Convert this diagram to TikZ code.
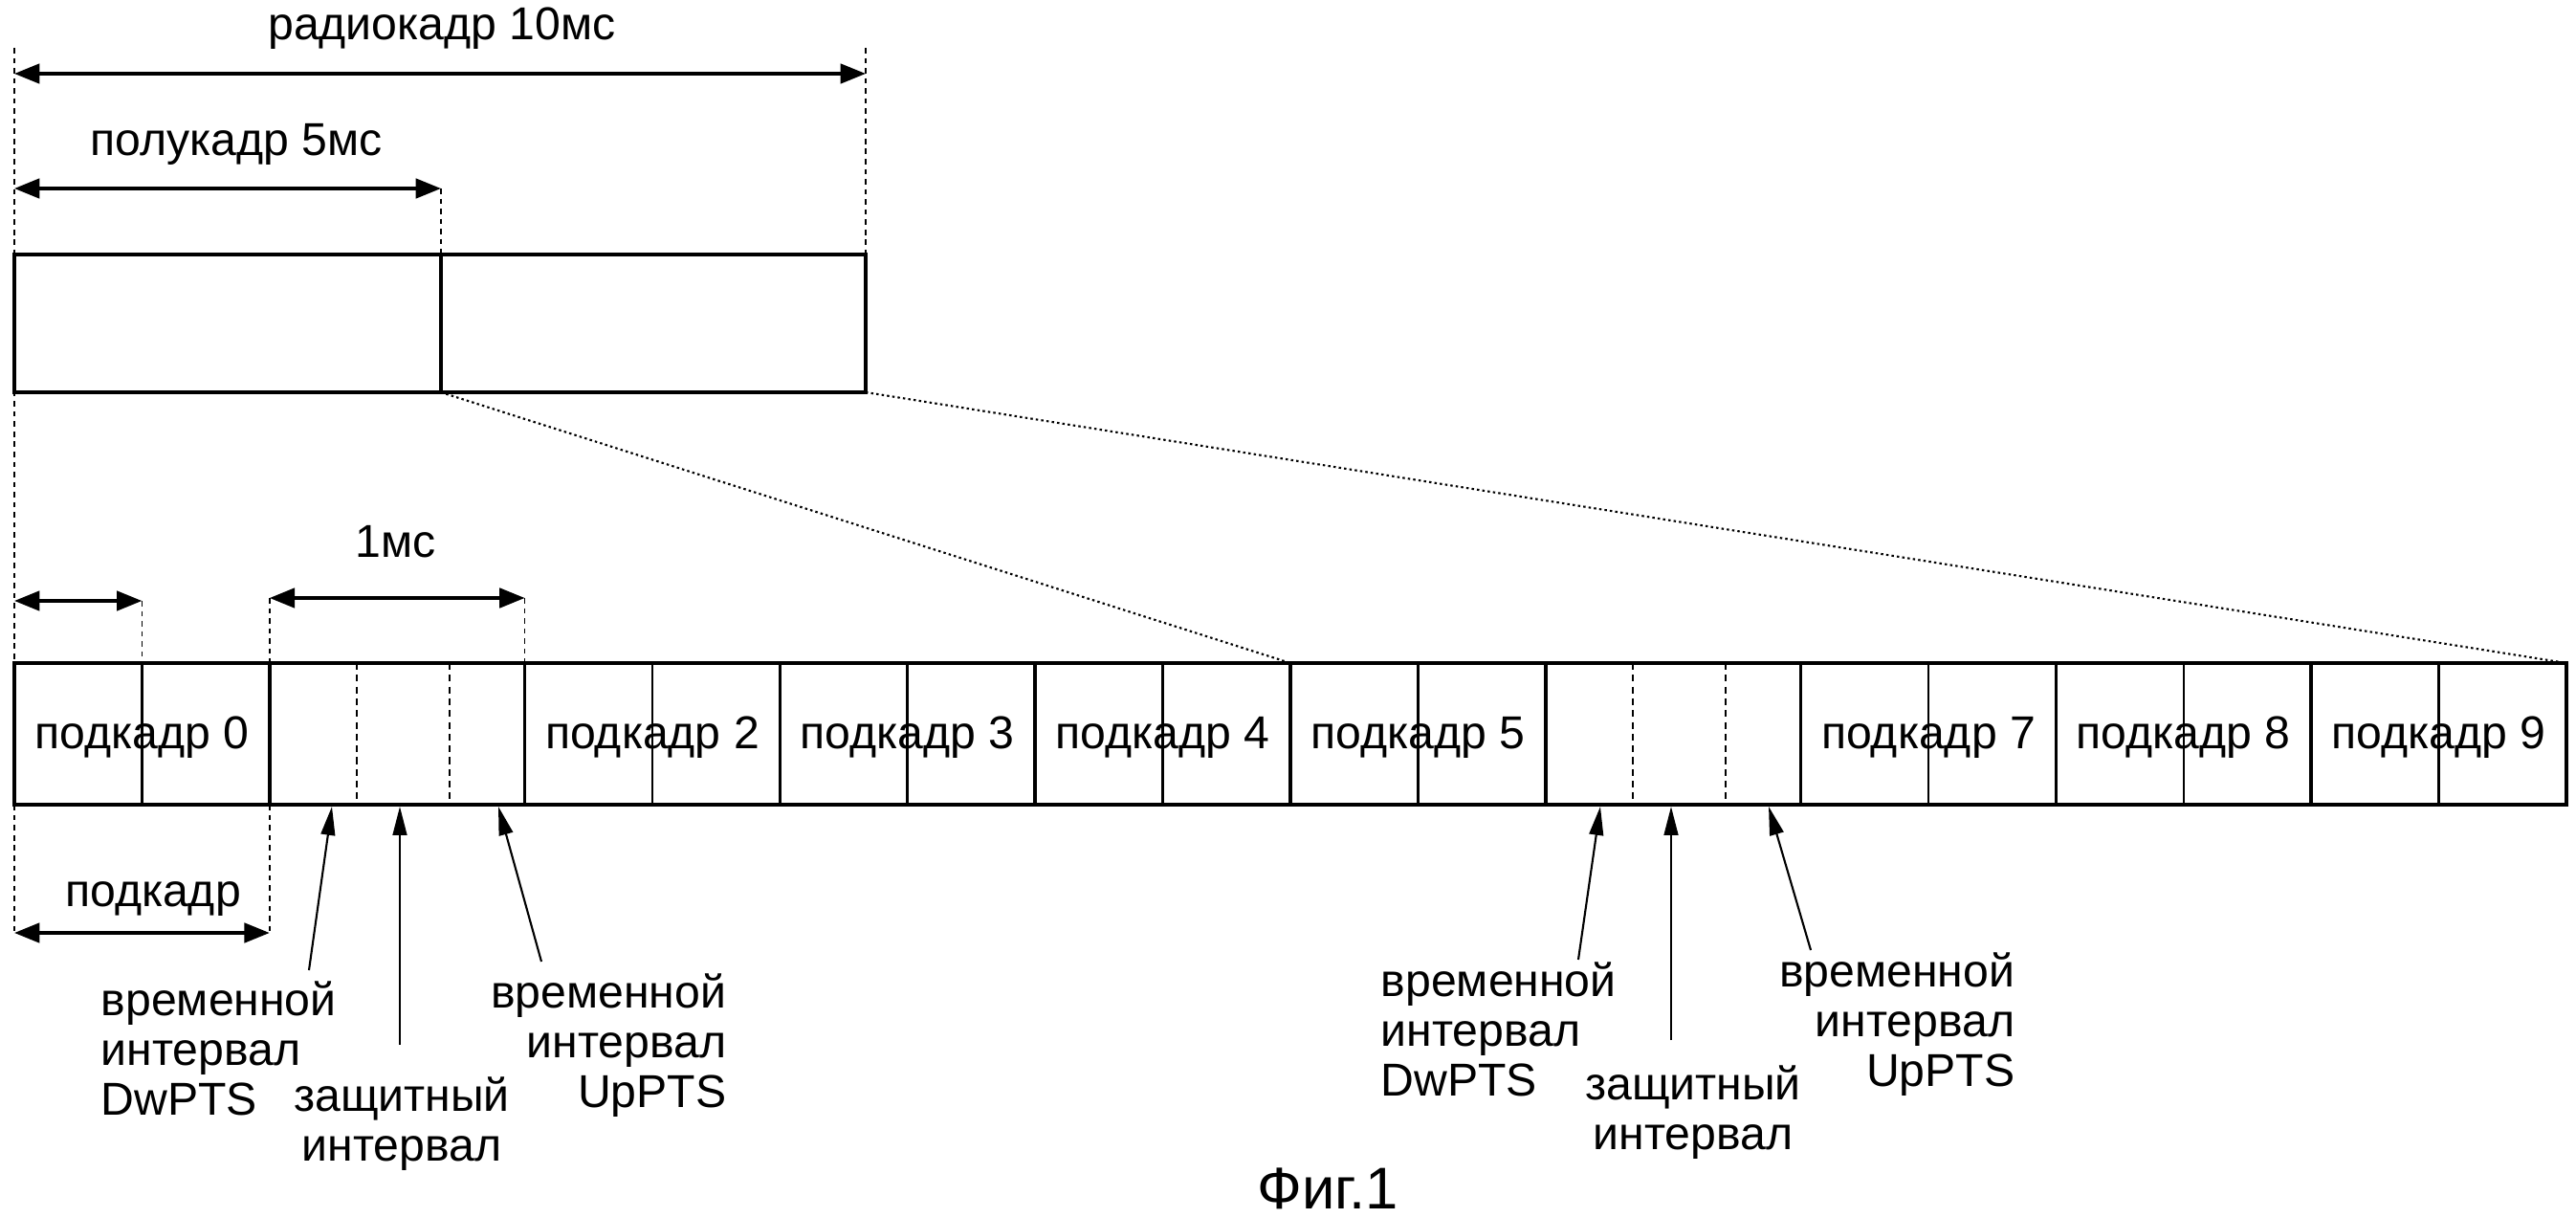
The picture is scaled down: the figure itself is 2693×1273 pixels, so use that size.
\documentclass[tikz,border=0pt]{standalone}
\usepackage{fontspec}
\setmainfont{Liberation Sans}
\usetikzlibrary{arrows.meta,calc}
\begin{document}
\begin{tikzpicture}[x=0.01cm,y=-0.01cm,
  lbl/.style={font=\fontsize{13.7}{14.8}\selectfont, inner sep=0pt},
  figlbl/.style={font=\fontsize{17.5}{20}\selectfont, inner sep=0pt},
  frame/.style={line width=1pt},
  slotline/.style={line width=0.75pt},
  guide/.style={line width=0.5pt, dash pattern=on 1.6pt off 1.4pt},
  sepline/.style={line width=0.5pt, dash pattern=on 2pt off 1.5pt},
  zoomline/.style={line width=0.6pt, dash pattern=on 0.7pt off 0.9pt},
  dim/.style={line width=1pt, {Triangle[length=7.5pt,width=5.8pt]}-{Triangle[length=7.5pt,width=5.8pt]}},
  ptr/.style={line width=0.6pt, -{Triangle[length=8.5pt,width=4.2pt]}},
]
\useasboundingbox (0,0) rectangle (2693,1273);

% ---------- top radio frame ----------
\coordinate (TL) at (15,266);
\coordinate (TM) at (461,266);
\coordinate (TR) at (905,266);
\coordinate (BL) at (15,410);
\coordinate (BM) at (461,410);
\coordinate (BR) at (905,410);
\draw[frame] (TL) rectangle (BR);
\draw[frame] (TM) -- (BM);

% guide lines
\coordinate (gL1) at (15,50);
\coordinate (gL2) at (15,975);
\coordinate (gR1) at (905,50);
\coordinate (gM1) at (461,197);
\draw[guide] (gL1) -- (gL2);
\draw[guide] (gR1) -- (TR);
\draw[guide] (gM1) -- (TM);

% dimension arrows (top)
\coordinate (r10a) at (15,77);
\coordinate (r10b) at (905,77);
\draw[dim] (r10a) -- (r10b);
\node[lbl, anchor=base] (lradio) at (462,42) {радиокадр 10мс};
\coordinate (r5a) at (15,197);
\draw[dim] (r5a) -- (gM1);
\node[lbl, anchor=base] (lhalf) at (247,163) {полукадр 5мс};

% ---------- subframe row ----------
\foreach \k in {0,...,10} {
  \coordinate (t\k) at ({15+266.8*\k},693);
  \coordinate (b\k) at ({15+266.8*\k},841);
}
\draw[frame] (t0) rectangle (b10);
\foreach \k in {1,...,9} \draw[frame] (t\k) -- (b\k);
\foreach \k in {0,2,3,4,5,7,8,9} {
  \draw[slotline] ($(t\k)+(133.4,0)$) -- ($(b\k)+(133.4,0)$);
  \node[lbl, anchor=base] (sf\k) at ({15+266.8*(\k+0.5)},782) {подкадр \k};
}
% special subframes: DwPTS / GP / UpPTS separators
\foreach \k in {1,6} {
  \draw[sepline] ($(t\k)+(91,0)$) -- ($(b\k)+(91,0)$);
  \draw[sepline] ($(t\k)+(188,0)$) -- ($(b\k)+(188,0)$);
}

% zoom lines
\draw[zoomline] (BM) -- (t5);
\draw[zoomline] (BR) -- (t10);

% slot and 1 ms dimensions
\coordinate (sa) at (15,628);
\coordinate (sb) at (148.4,628);
\coordinate (sbt) at (148.4,693);
\draw[guide] (sb) -- (sbt);
\draw[dim] (sa) -- (sb);
\coordinate (ma) at (281.8,625);
\coordinate (mb) at (548.6,625);
\draw[guide] (ma) -- (t1);
\draw[guide] (mb) -- (t2);
\draw[dim] (ma) -- (mb);
\node[lbl, anchor=base] (l1ms) at (414,582) {1мс};

% subframe dimension (bottom)
\coordinate (da) at (15,975);
\coordinate (db) at (281.8,975);
\draw[guide] (b1) -- (db);
\draw[dim] (da) -- (db);
\node[lbl, anchor=base] (lsub) at (160,947) {подкадр};

% ---------- pointer labels, subframe 1 ----------
\node[lbl, anchor=north west, align=left] (dw1) at (105,1025) {временной\\интервал\\DwPTS};
\node[lbl, anchor=north, align=center] (gp1) at (420,1125) {защитный\\интервал};
\node[lbl, anchor=north east, align=right] (up1) at (760,1017) {временной\\интервал\\UpPTS};
\coordinate (dw1t) at (323,1014);
\coordinate (gp1t) at (418,1092);
\coordinate (up1t) at (566,1005);
\coordinate (dw1h) at (347,843);
\coordinate (gp1h) at (418,843);
\coordinate (up1h) at (521,843);
\draw[ptr] (dw1t) -- (dw1h);
\draw[ptr] (gp1t) -- (gp1h);
\draw[ptr] (up1t) -- (up1h);

% ---------- pointer labels, subframe 6 ----------
\node[lbl, anchor=north west, align=left] (dw6) at (1443,1005) {временной\\интервал\\DwPTS};
\node[lbl, anchor=north, align=center] (gp6) at (1770,1113) {защитный\\интервал};
\node[lbl, anchor=north east, align=right] (up6) at (2107,995) {временной\\интервал\\UpPTS};
\coordinate (dw6t) at (1650,1003);
\coordinate (gp6t) at (1747,1087);
\coordinate (up6t) at (1893,993);
\coordinate (dw6h) at (1673,843);
\coordinate (gp6h) at (1747,843);
\coordinate (up6h) at (1849,843);
\draw[ptr] (dw6t) -- (dw6h);
\draw[ptr] (gp6t) -- (gp6h);
\draw[ptr] (up6t) -- (up6h);

% caption
\node[figlbl, anchor=base] (fig) at (1388,1263) {Фиг.1};
\end{tikzpicture}
\end{document}
